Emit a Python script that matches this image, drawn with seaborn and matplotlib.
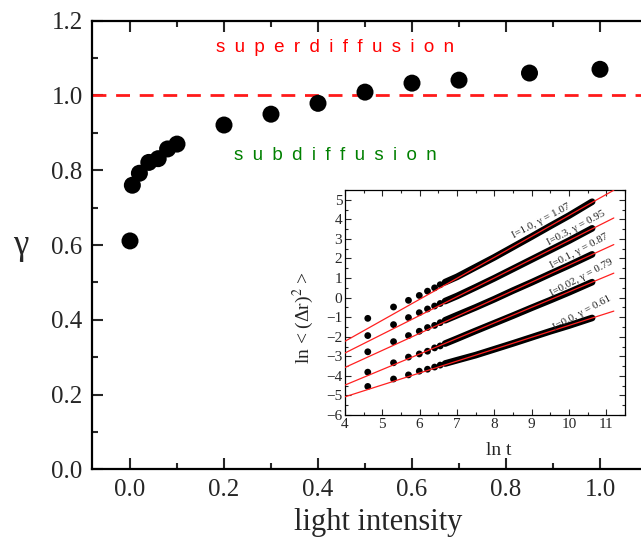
import numpy as np
import pandas as pd
import matplotlib
matplotlib.use("Agg")
import matplotlib.pyplot as plt
from matplotlib.ticker import MultipleLocator, FormatStrFormatter
import seaborn as sns

# ---------------- main data ----------------
intensity = [0.0, 0.005, 0.02, 0.04, 0.06, 0.08, 0.1, 0.2, 0.3, 0.4, 0.5, 0.6, 0.7, 0.85, 1.0]
gamma = [0.611, 0.76, 0.792, 0.821, 0.831, 0.857, 0.870, 0.921, 0.950, 0.979, 1.009, 1.033, 1.041, 1.06, 1.07]

# ---------------- inset data ----------------
series_labels = ["I=1.0, γ = 1.07", "I=0.3, γ = 0.95", "I=0.1, γ = 0.87",
                 "I=0.02, γ = 0.79", "I=0.0, γ = 0.61"]
# sparse early points (ln t)
ln_t_sparse = [4.61, 5.30, 5.70, 5.99, 6.21, 6.40, 6.55]
msd_sparse = [
    [-1.06, -0.48, -0.14, 0.11, 0.33, 0.50, 0.66],
    [-1.94, -1.38, -1.02, -0.77, -0.58, -0.43, -0.30],
    [-2.77, -2.25, -1.94, -1.72, -1.53, -1.42, -1.28],
    [-3.81, -3.33, -3.04, -2.88, -2.74, -2.57, -2.47],
    [-4.54, -4.16, -3.95, -3.76, -3.66, -3.55, -3.45],
]
# dense part (read along the thick band)
ln_t_dense = [6.68, 7.0, 7.5, 8.0, 8.5, 9.0, 9.5, 10.0, 10.62]
msd_dense = [
    [0.79, 1.06, 1.56, 2.06, 2.59, 3.12, 3.66, 4.19, 4.90],
    [-0.18, 0.08, 0.53, 0.99, 1.47, 1.95, 2.43, 2.91, 3.54],
    [-1.16, -0.90, -0.50, -0.08, 0.36, 0.78, 1.22, 1.65, 2.21],
    [-2.35, -2.10, -1.70, -1.31, -0.92, -0.52, -0.13, 0.27, 0.79],
    [-3.37, -3.20, -2.94, -2.64, -2.34, -2.03, -1.72, -1.43, -1.04],
]
# fit lines: ln t endpoints and values
fit_x = [4.0, 11.2]
fit_y = [
    [-2.23, 5.49],
    [-2.83, 4.07],
    [-3.57, 2.71],
    [-4.47, 1.25],
    [-5.07, -0.69],
]
label_pos = [(9.27, 3.93), (10.18, 3.55), (10.28, 2.40), (10.35, 1.04), (10.35, -0.78)]

# ---------------- style ----------------
sns.set_theme(style="ticks")
plt.rcParams["font.family"] = ["Liberation Serif", "DejaVu Serif"]
plt.rcParams["mathtext.fontset"] = "stix"
plt.rcParams["xtick.direction"] = "in"
plt.rcParams["ytick.direction"] = "in"

W, H = 641, 540
fig = plt.figure(figsize=(W / 100, H / 100), dpi=100)
fig.patch.set_facecolor("white")

# main axes
x0, x1 = 92.4, 647.0
y_top, y_bot = 20.7, 469.4
ax = fig.add_axes([x0 / W, 1 - y_bot / H, (x1 - x0) / W, (y_bot - y_top) / H])
ax.set_facecolor("white")

df = pd.DataFrame({"I": intensity, "g": gamma})
sns.scatterplot(data=df, x="I", y="g", ax=ax, color="black", s=150,
                edgecolor="none", zorder=3, legend=False)
ax.axhline(1.0, color="#ff1a1a", lw=2.0, ls=(0, (5, 3.5)), zorder=2)

ax.set_xlim(-0.08, 1.1)
ax.set_ylim(0.0, 1.2)
ax.xaxis.set_major_locator(MultipleLocator(0.2))
ax.xaxis.set_minor_locator(MultipleLocator(0.1))
ax.yaxis.set_major_locator(MultipleLocator(0.2))
ax.yaxis.set_minor_locator(MultipleLocator(0.1))
ax.xaxis.set_major_formatter(FormatStrFormatter("%.1f"))
ax.yaxis.set_major_formatter(FormatStrFormatter("%.1f"))
ax.tick_params(which="major", length=8, width=1.5, labelsize=18, top=True, pad=7)
ax.tick_params(which="minor", length=4.5, width=1.5, top=True)
ax.tick_params(axis="y", which="both", right=False)
for s in ["left", "bottom", "top"]:
    ax.spines[s].set_linewidth(1.6)
    ax.spines[s].set_color("black")
ax.spines["right"].set_visible(False)

ax.set_xlabel("light intensity", fontsize=22)
ax.set_ylabel("γ", fontsize=25, rotation=0)
ax.xaxis.set_label_coords(0.515, -0.085)
ax.yaxis.set_label_coords(-0.13, 0.462)

sp = "\u2002"
ax.text(0.436, 1.129, sp.join("superdiffusion"), color="#ff0000", fontsize=13.5,
        family=["Liberation Sans", "DejaVu Sans"], ha="center", va="center")
ax.text(0.436, 0.84, sp.join("subdiffusion"), color="#008000", fontsize=13.5,
        family=["Liberation Sans", "DejaVu Sans"], ha="center", va="center")

# inset axes
ix0, ix1, iy_top, iy_bot = 345, 625, 190, 415
ins = fig.add_axes([ix0 / W, 1 - iy_bot / H, (ix1 - ix0) / W, (iy_bot - iy_top) / H])
ins.set_facecolor("white")

for k in range(5):
    spd = pd.DataFrame({"x": ln_t_sparse, "y": msd_sparse[k]})
    sns.scatterplot(data=spd, x="x", y="y", ax=ins, color="black", s=24,
                    edgecolor="none", zorder=3, legend=False)
    dn = pd.DataFrame({"x": ln_t_dense, "y": msd_dense[k]})
    sns.lineplot(data=dn, x="x", y="y", ax=ins, color="black", lw=4.8,
                 sort=False, estimator=None, zorder=3, legend=False,
                 solid_capstyle="round")
    fl = pd.DataFrame({"x": fit_x, "y": fit_y[k]})
    sns.lineplot(data=fl, x="x", y="y", ax=ins, color="#ff2020", lw=0.9,
                 sort=False, estimator=None, zorder=4, legend=False)
    lx, ly = label_pos[k]
    ins.text(lx, ly, series_labels[k], fontsize=7.8, rotation=28,
             ha="center", va="center", rotation_mode="anchor", color="#222222",
             zorder=5)

ins.set_xlim(4, 11.5)
ins.set_ylim(-6, 5.5)
ins.xaxis.set_major_locator(MultipleLocator(1))
ins.xaxis.set_minor_locator(MultipleLocator(0.5))
ins.yaxis.set_major_locator(MultipleLocator(1))
ins.yaxis.set_minor_locator(MultipleLocator(0.5))
ins.tick_params(which="major", length=4, width=0.8, labelsize=11,
                top=True, right=True, pad=2)
ins.tick_params(which="minor", length=2.2, width=0.8, top=True, right=True)
for s in ins.spines.values():
    s.set_linewidth(0.9)
    s.set_color("black")
ins.set_xlabel("ln t", fontsize=14)
ins.set_ylabel("ln < (Δr)$^{2}$ >", fontsize=14)
ins.xaxis.set_label_coords(0.55, -0.12)
ins.yaxis.set_label_coords(-0.105, 0.435)

fig.savefig("out.png", dpi=100, facecolor="white")
